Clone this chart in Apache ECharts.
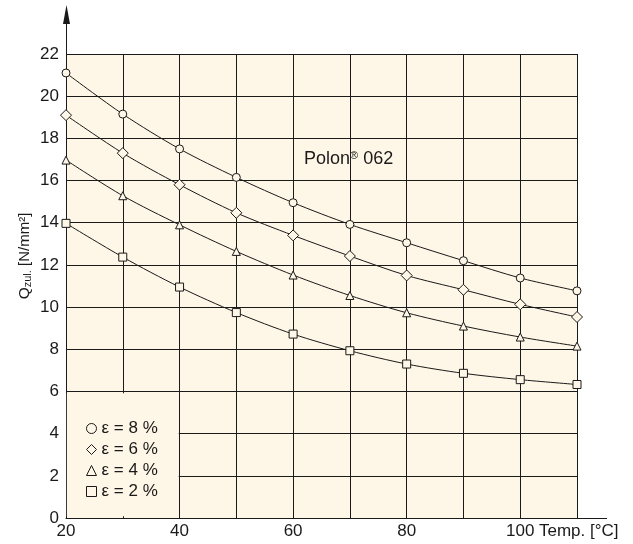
<!DOCTYPE html>
<html>
<head>
<meta charset="utf-8">
<script src="https://cdn.jsdelivr.net/npm/echarts@6/dist/echarts.min.js"></script>
<style>
  html, body { margin: 0; padding: 0; background: #fff; }
  #main { width: 633px; height: 544px; }
</style>
</head>
<body>
<div id="main"></div>
<script>
var temps = [20, 30, 40, 50, 60, 70, 80, 90, 100, 110];
var eps8 = [21.1, 19.15, 17.5, 16.15, 14.95, 13.92, 13.05, 12.2, 11.38, 10.77];
var eps6 = [19.1, 17.3, 15.8, 14.47, 13.4, 12.42, 11.5, 10.82, 10.13, 9.53];
var eps4 = [16.97, 15.28, 13.9, 12.64, 11.52, 10.55, 9.73, 9.1, 8.58, 8.15];
var eps2 = [13.97, 12.37, 10.95, 9.74, 8.72, 7.93, 7.3, 6.86, 6.56, 6.33];
var names = ["ε = 8 %", "ε = 6 %", "ε = 4 %", "ε = 2 %"];
var xTickLabels = [20, 40, 60, 80, 100];

var bg = "#fef6e6";
var ink = "#1a1a1a";
var font = "Liberation Sans, Arial, sans-serif";

var myChart = echarts.init(document.getElementById("main"));

function pairs(ys) {
  return temps.map(function (t, i) { return [t, ys[i]]; });
}

function curve(name, ys, symbol, size) {
  return {
    name: name,
    type: "line",
    data: pairs(ys),
    smooth: 0.3,
    symbol: symbol,
    symbolSize: size,
    lineStyle: { color: ink, width: 1 },
    itemStyle: { color: bg, borderColor: ink, borderWidth: 1 },
    emphasis: { disabled: true },
    z: 3
  };
}

var legendIcons = ["circle", "diamond", "triangle", "rect"];

option = {
  backgroundColor: "#fff",
  animation: false,
  textStyle: { fontFamily: font },
  grid: {
    left: 66,
    right: 56,
    top: 54,
    bottom: 26,
    show: true,
    backgroundColor: bg,
    borderWidth: 0
  },
  legend: {
    orient: "vertical",
    left: 81,
    top: 415,
    itemWidth: 10,
    itemHeight: 10,
    itemGap: 4,
    selectedMode: false,
    textStyle: { fontSize: 17, color: ink, fontFamily: font, lineHeight: 17 },
    data: names.map(function (n, i) {
      return {
        name: n,
        icon: legendIcons[i],
        itemStyle: { color: "transparent", borderColor: ink, borderWidth: 1 }
      };
    })
  },
  xAxis: {
    type: "value",
    min: 20,
    max: 110,
    interval: 10,
    axisLine: { show: true, lineStyle: { color: ink, width: 1 } },
    axisTick: { show: false },
    axisLabel: {
      fontSize: 17,
      color: ink,
      margin: 5,
      formatter: function (v) {
        return xTickLabels.indexOf(v) >= 0 ? String(v) : "";
      }
    },
    splitLine: { show: true, lineStyle: { color: ink, width: 1 } }
  },
  yAxis: {
    type: "value",
    min: 0,
    max: 22,
    interval: 2,
    axisLine: { show: true, lineStyle: { color: ink, width: 1 } },
    axisTick: { show: false },
    axisLabel: { fontSize: 17, color: ink, margin: 7 },
    splitLine: { show: true, lineStyle: { color: ink, width: 1 } }
  },
  series: [
    curve(names[0], eps8, "circle", 8),
    curve(names[1], eps6, "diamond", 11),
    curve(names[2], eps4, "triangle", 8),
    curve(names[3], eps2, "rect", 8),
    {
      // blank box behind the legend
      name: "legendBox",
      type: "line",
      data: [],
      silent: true,
      markArea: {
        silent: true,
        itemStyle: { color: bg, borderWidth: 0 },
        data: [[{ coord: [20.15, 0.08] }, { coord: [39.85, 5.92] }]]
      },
      z: 1
    }
  ]
};

myChart.setOption(option);

// axis extensions: arrow up the y axis, x axis line past the last grid line
var origin = myChart.convertToPixel({ gridIndex: 0 }, [20, 0]);
var corner = myChart.convertToPixel({ gridIndex: 0 }, [110, 22]);
var x0 = Math.round(origin[0]) + 0.5;
var yTop = corner[1];
myChart.setOption({
  graphic: [
    {
      type: "line",
      shape: { x1: x0, y1: yTop, x2: x0, y2: 22 },
      style: { stroke: ink, lineWidth: 1 }
    },
    {
      type: "polygon",
      shape: { points: [[x0, 5], [x0 - 3.5, 24], [x0 + 3.5, 24]] },
      style: { fill: ink }
    },
    {
      type: "line",
      shape: { x1: corner[0], y1: Math.round(origin[1]) + 0.5, x2: corner[0] + 30, y2: Math.round(origin[1]) + 0.5 },
      style: { stroke: ink, lineWidth: 1 }
    },
    {
      type: "text",
      x: corner[0] - 38,
      y: origin[1] + 5,
      style: { text: "Temp. [°C]", font: "17px " + font, fill: ink }
    },
    {
      // y axis title, read bottom to top
      type: "text",
      x: 25,
      y: 256,
      rotation: Math.PI / 2,
      style: {
        text: "{q|Q}{s|zul.}{t| [N/mm²]}",
        align: "center",
        verticalAlign: "middle",
        rich: {
          q: { fontSize: 15.5, fontFamily: font, fill: ink },
          s: { fontSize: 11, fontFamily: font, fill: ink, padding: [6, 0, 0, 0] },
          t: { fontSize: 15, fontFamily: font, fill: ink }
        }
      }
    },
    {
      type: "text",
      x: 304,
      y: 150,
      style: {
        text: "{a|Polon}{r|®}{a| 062}",
        rich: {
          a: { fontSize: 18, fontFamily: font, fill: ink },
          r: { fontSize: 11, fontFamily: font, fill: ink, padding: [0, 0, 6, 0] }
        }
      }
    }
  ]
});
</script>
</body>
</html>
